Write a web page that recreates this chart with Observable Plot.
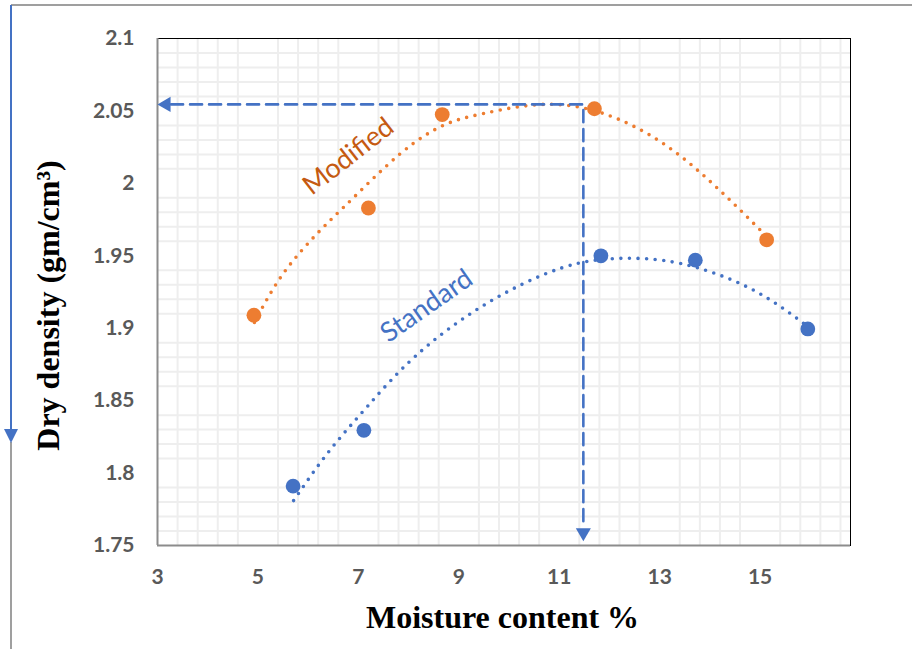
<!DOCTYPE html>
<html><head><meta charset="utf-8">
<script src="https://cdn.jsdelivr.net/npm/d3@7"></script>
<script src="https://cdn.jsdelivr.net/npm/@observablehq/plot@0.6"></script>
<style>
html,body{margin:0;padding:0;background:#fff;}
#wrap{position:relative;width:912px;height:649px;overflow:hidden;}
#deco{position:absolute;left:0;top:0;pointer-events:none;}
</style></head><body>
<div id="wrap"><div id="chart"></div>
<svg id="deco" width="912" height="649">
 <line x1="11" y1="5" x2="912" y2="5" stroke="#7f7f7f" stroke-width="1.5"/>
 <line x1="11" y1="442" x2="11" y2="649" stroke="#7f7f7f" stroke-width="1.5"/>
 <line x1="11" y1="5" x2="11" y2="432" stroke="#4472C4" stroke-width="2"/>
 <polygon points="4,429 18,429 11,443" fill="#4472C4"/>
</svg></div>
<script>
// ---- data ----
const modX = [4.92, 7.20, 8.67, 11.70, 15.13];
const modY = [1.909, 1.983, 2.0475, 2.0515, 1.961];
const stdX = [5.70, 7.11, 11.83, 13.71, 15.95];
const stdY = [1.791, 1.8295, 1.950, 1.947, 1.8995];

// polynomial trendlines as drawn in the reference
const modTrendX = [4.93, 5.51, 6.24, 6.90, 7.84, 8.69, 9.49, 10.68, 11.88, 13.07, 14.14, 15.14];
const modTrendY = [1.904, 1.938, 1.9675, 1.990, 2.0206, 2.040, 2.0482, 2.0545, 2.0482, 2.0275, 1.997, 1.963];
const stdTrendX = [5.71, 6.40, 7.18, 8.13, 9.49, 11.02, 12.21, 13.41, 14.80, 15.95];
const stdTrendY = [1.781, 1.8143, 1.846, 1.8805, 1.9157, 1.9413, 1.9482, 1.9447, 1.9275, 1.9012];

// dashed guide (optimum moisture / max dry density)
const guideX = [3.27, 11.48, 11.48];
const guideY = [2.0545, 2.0545, 1.765];
const arrowLeft = [{x: 3.173, y: 2.0545}];
const arrowDown = [{x: 11.48, y: 1.7589}];

// series labels
const labelText = ["Modified", "Standard"];
const labelX = [6.80, 8.36];
const labelY = [2.0186, 1.9154];

// ticks
const xTicks = [3, 5, 7, 9, 11, 13, 15];
const xTickLabels = ["3", "5", "7", "9", "11", "13", "15"];
const yTicks = [1.75, 1.8, 1.85, 1.9, 1.95, 2, 2.05, 2.1];
const yTickLabels = ["1.75", "1.8", "1.85", "1.9", "1.95", "2", "2.05", "2.1"];

const xTitle = "Moisture content %";
const yTitle = "Dry density (gm/cm³)";

// ---- build tables ----
const modified = modX.map((x, i) => ({x, y: modY[i]}));
const standard = stdX.map((x, i) => ({x, y: stdY[i]}));
const modTrend = modTrendX.map((x, i) => ({x, y: modTrendY[i]}));
const stdTrend = stdTrendX.map((x, i) => ({x, y: stdTrendY[i]}));
const guide = guideX.map((x, i) => ({x, y: guideY[i]}));

// minor grid (major positions have no gridline in the reference)
const xGrid = d3.range(0, 35).filter(k => k % 5 !== 0).map(k => 3 + 0.4 * k);
const yGrid = d3.range(0, 36).filter(k => k % 5 !== 0).map(k => 1.75 + 0.01 * k);

const ORANGE = "#ED7D31", BLUE = "#4472C4";

const chart = Plot.plot({
  width: 912, height: 649,
  marginLeft: 157, marginRight: 62, marginTop: 38, marginBottom: 104,
  x: {domain: [3, 16.8], axis: null},
  y: {domain: [1.75, 2.1], axis: null},
  style: {background: "white", fontFamily: "Lato"},
  marks: [
    Plot.ruleX(xGrid, {stroke: "#eeeeee", strokeWidth: 2}),
    Plot.ruleY(yGrid, {stroke: "#eeeeee", strokeWidth: 2}),
    Plot.frame({stroke: "#000", strokeWidth: 1}),
    Plot.ruleX([3], {stroke: "#8c8c8c", strokeWidth: 2}),
    Plot.ruleY([1.75], {stroke: "#8c8c8c", strokeWidth: 2}),
    Plot.line(modTrend, {x: "x", y: "y", curve: "natural", stroke: ORANGE, strokeWidth: 3.6, strokeDasharray: "0,8.6", strokeLinecap: "round"}),
    Plot.line(stdTrend, {x: "x", y: "y", curve: "natural", stroke: BLUE, strokeWidth: 3.6, strokeDasharray: "0,8.6", strokeLinecap: "round"}),
    Plot.line(guide, {x: "x", y: "y", stroke: BLUE, strokeWidth: 2.6, strokeDasharray: "12,7"}),
    Plot.dot(arrowLeft, {x: "x", y: "y", symbol: "triangle", rotate: -90, r: 5.6, fill: BLUE}),
    Plot.dot(arrowDown, {x: "x", y: "y", symbol: "triangle", rotate: 180, r: 5.6, fill: BLUE}),
    Plot.dot(modified, {x: "x", y: "y", r: 7.4, fill: ORANGE}),
    Plot.dot(standard, {x: "x", y: "y", r: 7.4, fill: BLUE}),
    Plot.text([0], {x: () => labelX[0], y: () => labelY[0], text: () => labelText[0], rotate: -38, fill: "#C55A11", fontSize: 27, fontFamily: "Lato", textAnchor: "middle", lineAnchor: "middle"}),
    Plot.text([1], {x: () => labelX[1], y: () => labelY[1], text: () => labelText[1], rotate: -35, fill: BLUE, fontSize: 27, fontFamily: "Lato", textAnchor: "middle", lineAnchor: "middle"}),
    Plot.text(xTicks, {x: d => d, text: (d, i) => xTickLabels[i], frameAnchor: "bottom", dy: 32, textAnchor: "middle", lineAnchor: "middle", fill: "#595959", fontSize: 21, fontWeight: "bold", fontFamily: "Lato"}),
    Plot.text(yTicks, {y: d => d, text: (d, i) => yTickLabels[i], frameAnchor: "left", dx: -23, textAnchor: "end", lineAnchor: "middle", fill: "#595959", fontSize: 21, fontWeight: "bold", fontFamily: "Lato"}),
    Plot.text([xTitle], {text: d => d, frameAnchor: "bottom", dy: 72, dx: -1.5, textAnchor: "middle", lineAnchor: "middle", fill: "#000", fontSize: 32, fontWeight: "bold", fontFamily: "Liberation Serif"}),
    Plot.text([yTitle], {text: d => d, frameAnchor: "left", dx: -108.5, dy: 13.5, rotate: -90, textAnchor: "middle", lineAnchor: "middle", fill: "#000", fontSize: 32, fontWeight: "bold", fontFamily: "Liberation Serif"})
  ]
});
document.getElementById("chart").appendChild(chart);
</script>
</body></html>
